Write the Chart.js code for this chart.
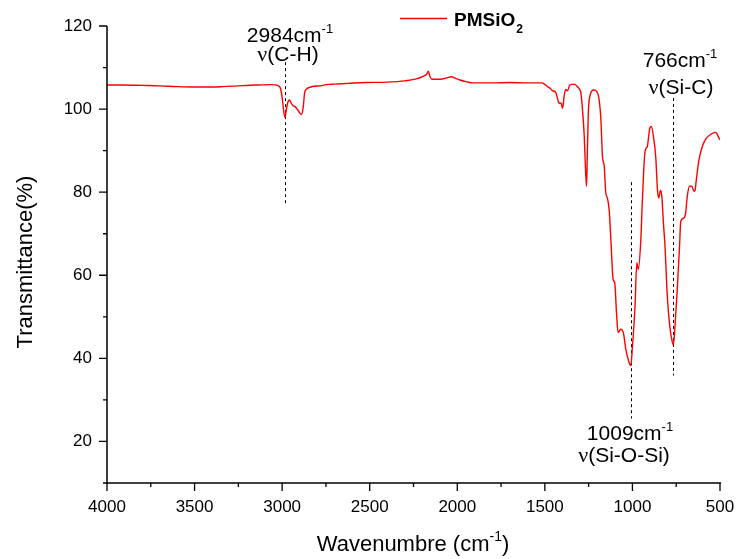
<!DOCTYPE html>
<html>
<head>
<meta charset="utf-8">
<script src="https://cdn.jsdelivr.net/npm/chart.js@4.4.1/dist/chart.umd.min.js"></script>
<style>
  html, body { margin: 0; padding: 0; background: #fff; }
</style>
</head>
<body>
<canvas id="ftirChart" width="737" height="559"></canvas>
<script>
// FTIR spectrum of PMSiO2
const wavenumbers = [
  4000, 3900, 3800, 3700, 3600, 3500, 3420, 3340, 3250, 3150, 3060, 3025, 3010, 3000,
  2992, 2984, 2977, 2968, 2958, 2948, 2938, 2926, 2913, 2900, 2890, 2880, 2872, 2862,
  2845, 2820, 2780, 2750, 2700, 2620, 2520, 2400, 2300, 2240, 2195, 2175, 2165, 2157,
  2146, 2100, 2060, 2035, 2010, 1985, 1950, 1910, 1800, 1700, 1600, 1515, 1503, 1484,
  1470, 1456, 1441, 1433, 1418, 1408, 1399, 1389, 1380, 1371, 1357, 1332, 1314, 1300,
  1294, 1285, 1275, 1267, 1262, 1257, 1251, 1241, 1222, 1203, 1190, 1180, 1171, 1161,
  1152, 1143, 1133, 1124, 1110, 1101, 1091, 1082, 1066, 1051, 1038, 1022, 1009, 1000,
  985, 975, 966, 952, 943, 928, 915, 901, 892, 880, 867, 857, 850, 840, 832, 823, 814,
  801, 787, 775, 766, 757, 744, 731, 724, 705, 696, 687, 673, 661, 648, 643, 633, 620,
  601, 578, 553, 529, 519, 506, 500
];
const transmittance = [
  105.8, 105.8, 105.7, 105.6, 105.4, 105.3, 105.3, 105.4, 105.6, 105.8, 105.9, 105.7, 105.0, 102.8,
  99.8, 98.0, 99.6, 101.6, 102.2, 101.4, 100.8, 100.6, 99.9, 99.1, 98.7, 100.3, 103.8, 104.8,
  105.2, 105.5, 105.6, 105.9, 106.0, 106.2, 106.4, 106.5, 106.8, 107.2, 107.9, 108.4, 109.1, 108.0,
  107.2, 107.2, 107.5, 107.8, 107.4, 107.0, 106.6, 106.3, 106.3, 106.4, 106.3, 106.3, 106.0, 105.4,
  105.0, 104.4, 104.2, 103.4, 101.4, 101.5, 100.2, 103.4, 104.7, 104.4, 105.8, 106.0, 105.4, 104.6,
  103.8, 99.8, 93.4, 84.5, 81.4, 90.2, 99.8, 103.4, 104.6, 104.2, 102.2, 97.4, 88.6, 86.2,
  79.8, 78.6, 75.8, 69.4, 59.0, 58.2, 51.0, 46.2, 47.0, 46.0, 42.2, 39.4, 38.2, 42.8,
  52.6, 63.0, 61.4, 68.6, 78.2, 89.8, 91.0, 95.4, 95.8, 93.4, 88.6, 80.6, 78.6, 80.4, 79.0, 72.6, 67.0,
  55.0, 47.8, 44.5, 43.2, 47.8, 56.6, 67.0, 73.0, 73.8, 75.0, 79.0, 81.5, 81.4, 80.2, 80.4, 83.8, 87.8,
  91.0, 93.0, 93.9, 94.4, 94.2, 93.0, 92.6
];

const xTicks = [4000, 3500, 3000, 2500, 2000, 1500, 1000, 500];
const xMinorTicks = [3750, 3250, 2750, 2250, 1750, 1250, 750];
const yTicks = [20, 40, 60, 80, 100, 120];
const yMinorTicks = [10, 30, 50, 70, 90, 110];

// assigned bands
const bandPositions = [2984, 1009, 766];
const bandGroups = ['C-H', 'Si-O-Si', 'Si-C'];

const SANS = "'Liberation Sans', Arial, sans-serif";
const SERIF = "'Liberation Serif', 'Times New Roman', serif";

// guide line span (%T) and label placement for each band
const bandLayout = [
  { from: 111.3, to: 77.3, cx1: 290, y1: 42, cx2: 288, y2: 61 },
  { from: 82.4, to: 25.5, cx1: 630, y1: 439.5, cx2: 624, y2: 461.5 },
  { from: 102.7, to: 35.9, cx1: 680, y1: 66.5, cx2: 681, y2: 94 }
];

// draw a line of mixed-font pieces centred on cx
function drawRuns(ctx, runs, cx, baseline) {
  let total = 0;
  runs.forEach(r => {
    ctx.font = r.font;
    r.w = ctx.measureText(r.text).width;
    total += r.w;
  });
  let x = cx - total / 2;
  runs.forEach(r => {
    ctx.font = r.font;
    ctx.fillText(r.text, x, baseline + (r.dy || 0));
    x += r.w;
  });
}

const decor = {
  id: 'decor',

  beforeDatasetsDraw(chart) {
    const {ctx, scales: {x, y}} = chart;
    ctx.save();
    ctx.strokeStyle = '#000';
    ctx.lineWidth = 1;
    ctx.setLineDash([3, 3]);
    bandPositions.forEach((wn, i) => {
      const px = Math.round(x.getPixelForValue(wn)) + 0.5;
      ctx.beginPath();
      ctx.moveTo(px, y.getPixelForValue(bandLayout[i].from));
      ctx.lineTo(px, y.getPixelForValue(bandLayout[i].to));
      ctx.stroke();
    });
    ctx.restore();
  },

  afterDraw(chart) {
    const {ctx, chartArea: area, scales: {x, y}} = chart;
    ctx.save();

    // axes and tick marks
    ctx.strokeStyle = '#000';
    ctx.lineWidth = 1.5;
    ctx.beginPath();
    ctx.moveTo(area.left, area.top);
    ctx.lineTo(area.left, area.bottom);
    ctx.lineTo(area.right + 1, area.bottom);
    ctx.stroke();

    ctx.lineWidth = 1.3;
    ctx.beginPath();
    xTicks.forEach(v => {
      const px = x.getPixelForValue(v);
      ctx.moveTo(px, area.bottom);
      ctx.lineTo(px, area.bottom + 8);
    });
    xMinorTicks.forEach(v => {
      const px = x.getPixelForValue(v);
      ctx.moveTo(px, area.bottom);
      ctx.lineTo(px, area.bottom + 4);
    });
    yTicks.forEach(v => {
      const py = y.getPixelForValue(v);
      ctx.moveTo(area.left, py);
      ctx.lineTo(area.left - 8, py);
    });
    yMinorTicks.forEach(v => {
      const py = y.getPixelForValue(v);
      ctx.moveTo(area.left, py);
      ctx.lineTo(area.left - 4, py);
    });
    ctx.stroke();

    ctx.fillStyle = '#000';
    ctx.textAlign = 'left';
    ctx.textBaseline = 'alphabetic';

    // band labels
    bandPositions.forEach((wn, i) => {
      const b = bandLayout[i];
      drawRuns(ctx, [
        { text: wn + 'cm', font: '21px ' + SANS },
        { text: '-1', font: '13px ' + SANS, dy: -9 }
      ], b.cx1, b.y1);
      drawRuns(ctx, [
        { text: 'ν', font: '22px ' + SERIF },
        { text: '(' + bandGroups[i] + ')', font: '21px ' + SANS }
      ], b.cx2, b.y2);
    });

    // legend
    ctx.strokeStyle = '#ff0000';
    ctx.lineWidth = 1.3;
    ctx.beginPath();
    ctx.moveTo(400, 18.5);
    ctx.lineTo(447, 18.5);
    ctx.stroke();
    ctx.font = 'bold 19px ' + SANS;
    ctx.fillText('PMSiO', 454, 26);
    const w = ctx.measureText('PMSiO').width;
    ctx.font = 'bold 12px ' + SANS;
    ctx.fillText('2', 454 + w + 1, 33);

    // axis titles
    drawRuns(ctx, [
      { text: 'Wavenumbre (cm', font: '22px ' + SANS },
      { text: '-1', font: '14px ' + SANS, dy: -10 },
      { text: ')', font: '22px ' + SANS }
    ], 413, 551);

    ctx.translate(32, 262);
    ctx.rotate(-Math.PI / 2);
    ctx.textAlign = 'center';
    ctx.font = '22px ' + SANS;
    ctx.fillText('Transmittance(%)', 0, 0);

    ctx.restore();
  }
};

const tickFont = { family: SANS, size: 17 };

new Chart(document.getElementById('ftirChart'), {
  type: 'line',
  data: {
    datasets: [{
      label: 'PMSiO2',
      data: wavenumbers.map((wn, i) => ({ x: wn, y: transmittance[i] })),
      borderColor: '#ff0000',
      borderWidth: 1.4,
      pointRadius: 0,
      cubicInterpolationMode: 'monotone',
      fill: false
    }]
  },
  options: {
    responsive: false,
    animation: false,
    layout: { padding: { left: 0, right: 17, top: 26, bottom: 0 } },
    plugins: {
      legend: { display: false },
      title: { display: false },
      tooltip: { enabled: false }
    },
    scales: {
      x: {
        type: 'linear',
        reverse: true,
        min: 500,
        max: 4000,
        grid: { display: false, drawTicks: false },
        border: { display: false },
        ticks: {
          font: tickFont, color: '#000', padding: 14, maxRotation: 0, autoSkip: false,
          callback: v => String(v)
        },
        afterBuildTicks: s => { s.ticks = xTicks.map(v => ({ value: v })); },
        afterFit: s => { s.height = 76; s.paddingLeft = 0; s.paddingRight = 0; }
      },
      y: {
        min: 10,
        max: 120,
        grid: { display: false, drawTicks: false },
        border: { display: false },
        ticks: { font: tickFont, color: '#000', padding: 15, callback: v => String(v) },
        afterBuildTicks: s => { s.ticks = yTicks.map(v => ({ value: v })); },
        afterFit: s => { s.width = 107; s.paddingTop = 0; s.paddingBottom = 0; }
      }
    }
  },
  plugins: [decor]
});
</script>
</body>
</html>
